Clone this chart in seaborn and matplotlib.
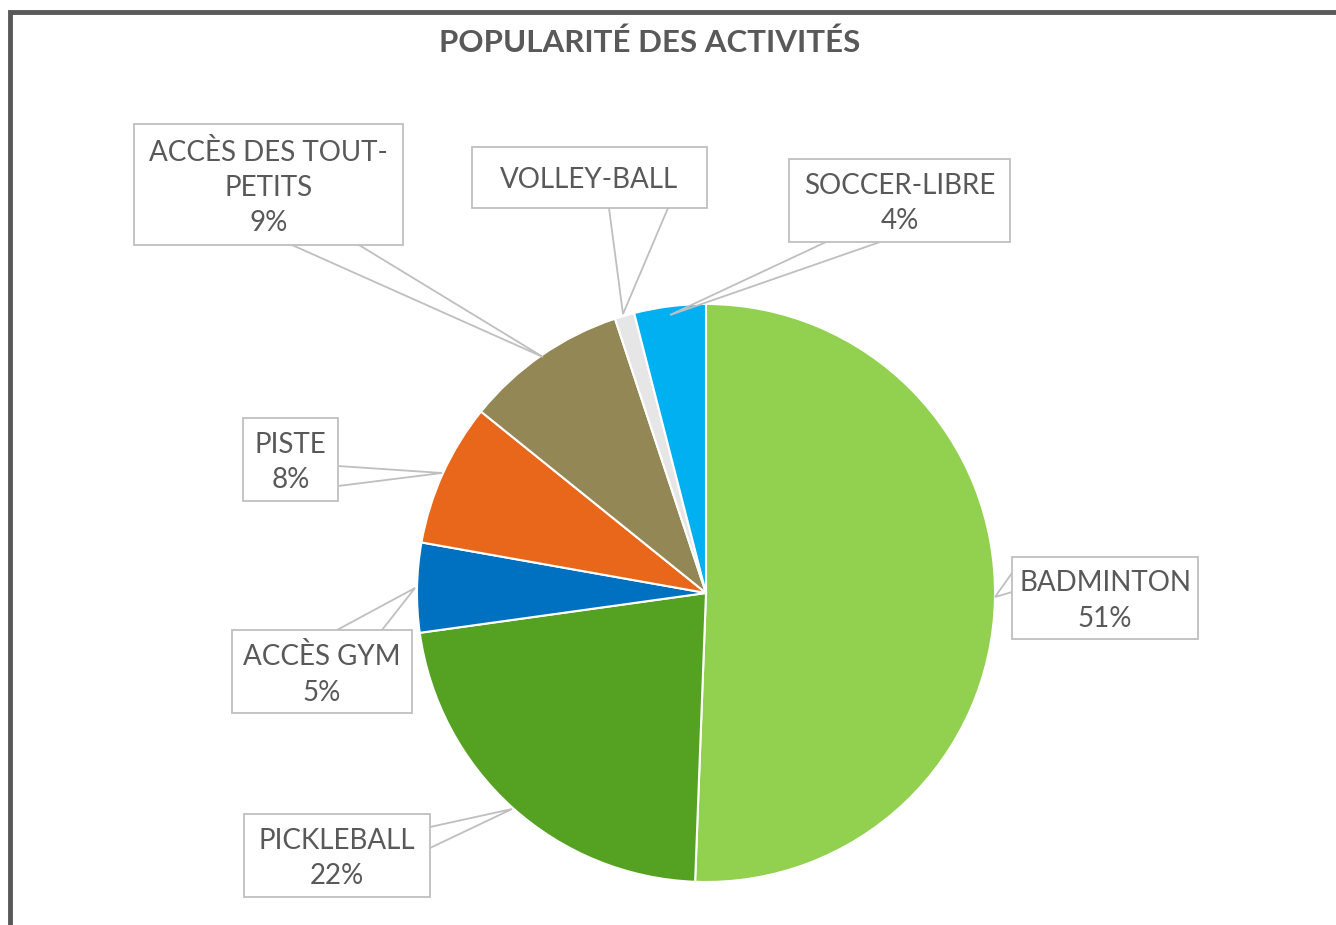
"""
Popularité des activités – pie chart with callout labels.
"""

import matplotlib
matplotlib.use("Agg")
import matplotlib.pyplot as plt
from matplotlib.patches import Rectangle
import seaborn as sns

W, H = 1336, 925

activities = ["BADMINTON", "PICKLEBALL", "ACCÈS GYM", "PISTE",
              "ACCÈS DES TOUT-\nPETITS", "VOLLEY-BALL", "SOCCER-LIBRE"]
shares     = [50.6, 22.2, 5.0, 8.0, 9.1, 1.1, 4.0]
show_pct   = [True, True, True, True, True, False, True]
colors     = ["#92D050", "#55A122", "#0070C0", "#E8671A",
              "#928755", "#E6E6E6", "#00B0F0"]

# callout layout in image pixels: box (x0, y0, x1, y1), leader base points, tip
boxes = [
    (1012, 557, 1198, 639),
    (244, 814, 430, 897),
    (232, 630, 412, 713),
    (243, 418, 338, 501),
    (134, 124, 403, 245),
    (472, 147, 707, 208),
    (789, 159, 1010, 242),
]
leaders = [
    ((1012, 573), (1012, 592), (995, 597)),
    ((430, 827), (430, 848), (512, 809)),
    ((337, 630), (382, 630), (415, 588)),
    ((338, 466), (338, 486), (442, 473)),
    ((292, 245), (359, 245), (543, 357)),
    ((609, 208), (668, 208), (623, 314)),
    ((826, 242), (880, 242), (670, 315)),
]

TEXT = "#595959"
GREY = "#BFBFBF"


def fy(y):
    # image row -> data y
    return H - y


def main():
    sns.set_theme(style="white")
    plt.rcParams["font.family"] = ["Lato", "DejaVu Sans"]

    fig = plt.figure(figsize=(W / 100, H / 100), dpi=100)
    ax = fig.add_axes([0, 0, 1, 1])

    ax.pie(shares, colors=colors, startangle=90, counterclock=False,
           center=(706, fy(593)), radius=289,
           wedgeprops=dict(edgecolor="white", linewidth=1.5))

    ax.set_xlim(0, W)
    ax.set_ylim(0, H)
    ax.set_aspect("equal")
    ax.axis("off")

    # ── callouts ─────────────────────────────────────────────────────────────
    for name, val, pct, box, (a, b, tip) in zip(activities, shares, show_pct,
                                                boxes, leaders):
        ax.plot([a[0], tip[0], b[0]], [fy(a[1]), fy(tip[1]), fy(b[1])],
                color=GREY, lw=1.3, zorder=3, solid_joinstyle="miter")
        x0, y0, x1, y1 = box
        ax.add_patch(Rectangle((x0, fy(y1)), x1 - x0, y1 - y0,
                               facecolor="white", edgecolor=GREY,
                               lw=1.3, zorder=4))
        label = f"{name}\n{round(val)}%" if pct else name
        ax.text((x0 + x1) / 2, fy((y0 + y1) / 2 + 3), label,
                ha="center", va="center", fontsize=20, color=TEXT,
                linespacing=1.45, zorder=5)

    # ── title and frame ──────────────────────────────────────────────────────
    ax.text(650, fy(43), "POPULARITÉ DES ACTIVITÉS", ha="center",
            va="center", fontsize=22.5, fontweight="bold", color=TEXT)
    ax.plot([10, 10, W], [0, fy(12), fy(12)], color="#595959", lw=3.5,
            solid_joinstyle="miter", clip_on=False)

    fig.savefig("out.png", dpi=100)


if __name__ == "__main__":
    main()
